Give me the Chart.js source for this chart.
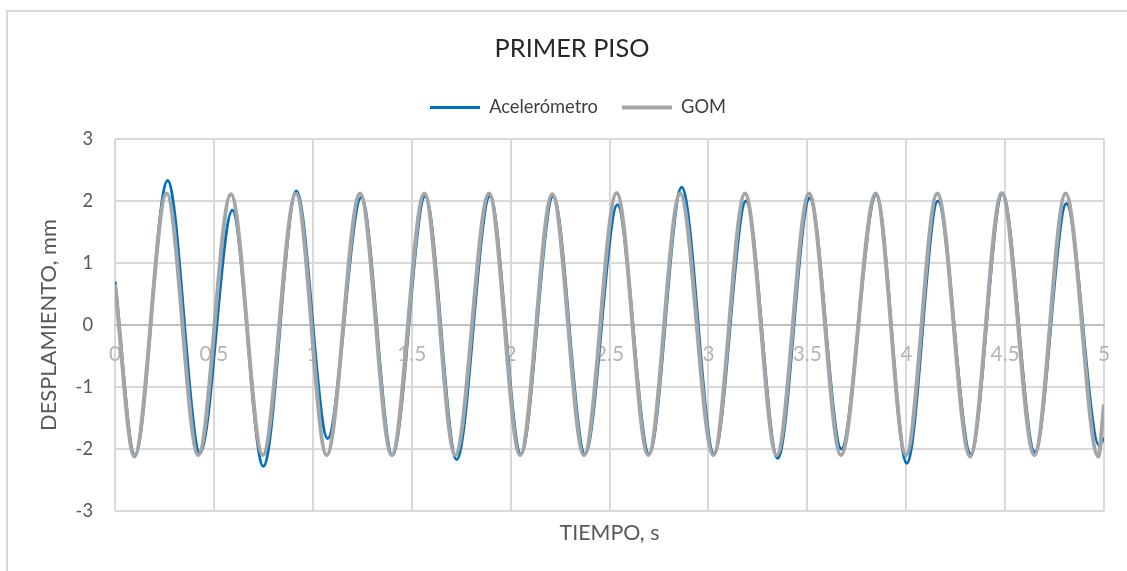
<!DOCTYPE html>
<html>
<head>
<meta charset="utf-8">
<script src="https://cdn.jsdelivr.net/npm/chart.js@4.4.1/dist/chart.umd.min.js"></script>
<style>
  html, body { margin: 0; padding: 0; background: #ffffff; overflow: hidden; }
  #frame { position: absolute; left: 6px; top: 10px; width: 1200px; height: 620px;
           border-left: 2px solid #d9d9d9; border-top: 2px solid #d9d9d9; }
  #chart { position: absolute; left: 0; top: 0; }
</style>
</head>
<body>
<div id="frame"></div>
<canvas id="chart" width="1127" height="571"></canvas>
<script>
// Peaks and troughs of each displacement record (time in s, displacement in mm)
const timeAcc = [0.000, 0.100, 0.266, 0.430, 0.593, 0.750, 0.917, 1.075, 1.245, 1.402,
                 1.568, 1.727, 1.895, 2.052, 2.215, 2.376, 2.540, 2.700, 2.865, 3.028,
                 3.190, 3.350, 3.512, 3.672, 3.848, 4.003, 4.160, 4.326, 4.486, 4.650,
                 4.810, 4.975, 5.000];
const dispAcc = [0.70, -2.10, 2.33, -2.07, 1.85, -2.28, 2.16, -1.83, 2.06, -2.10,
                 2.08, -2.17, 2.08, -2.08, 2.08, -2.08, 1.94, -2.08, 2.22, -2.08,
                 2.00, -2.15, 2.05, -2.00, 2.10, -2.23, 2.00, -2.08, 2.12, -2.05,
                 1.96, -1.94, -1.82];

const timeGom = [0.000, 0.098, 0.261, 0.421, 0.586, 0.747, 0.915, 1.070, 1.239, 1.399,
                 1.564, 1.720, 1.891, 2.048, 2.211, 2.371, 2.536, 2.696, 2.857, 3.025,
                 3.185, 3.345, 3.509, 3.670, 3.846, 3.999, 4.157, 4.323, 4.483, 4.648,
                 4.806, 4.971, 5.000];
const dispGom = [0.65, -2.12, 2.12, -2.10, 2.11, -2.10, 2.12, -2.10, 2.12, -2.10,
                 2.12, -2.10, 2.12, -2.10, 2.11, -2.10, 2.13, -2.10, 2.12, -2.10,
                 2.12, -2.10, 2.12, -2.10, 2.12, -2.10, 2.12, -2.12, 2.13, -2.10,
                 2.12, -2.12, -1.28];

const seriesNames = ['Acelerómetro', 'GOM'];
const timeRange = [0, 5];      // s
const timeStep = 0.5;
const dispRange = [-3, 3];     // mm
const dispStep = 1;

const chartTitle = 'PRIMER PISO';
const xTitle = 'TIEMPO, s';
const yTitle = 'DESPLAMIENTO, mm';

const toPoints = (ts, vs) => ts.map((t, i) => ({ x: t, y: vs[i] }));

// Pick font sizes so that the text runs keep their intended widths
const FAMILY = "Lato, 'Liberation Sans', sans-serif";
const mctx = document.createElement('canvas').getContext('2d');
function sizeForWidth(text, width) {
  mctx.font = '100px ' + FAMILY;
  return Math.round(1000 * width / mctx.measureText(text).width) / 10;
}
const titleSize  = sizeForWidth(chartTitle, 155);
const legendSize = sizeForWidth(seriesNames[0], 109);
const xTitleSize = sizeForWidth(xTitle, 100);
const yTitleSize = sizeForWidth(yTitle, 212);
const yTickSize = legendSize;
const xTickSize = legendSize * 22 / 19.4;

// vertical placement of title, legend and bottom axis title
const titleTop = 38.5 - 0.6 * titleSize;
const legendPad = 24;
const titleBottom = Math.max(0, 35 - 0.6 * titleSize - legendSize / 2);
const legendExtra = 21.5 - legendSize / 2;
const xTitleBottom = 25;
const xTitleTop = Math.max(0, 52 - 1.2 * xTitleSize - xTitleBottom);

Chart.defaults.font.family = FAMILY;

// extra room under the legend, and horizontal nudges for the header blocks
const headerTweaks = {
  id: 'headerTweaks',
  beforeInit(chart) {
    const fit = chart.legend.fit;
    chart.legend.fit = function () { fit.call(this); this.height += legendExtra; };
  },
  afterLayout(chart) {
    chart.legend.left += 8;  chart.legend.right += 8;
    chart.titleBlock.left += 2; chart.titleBlock.right += 2;
  }
};

new Chart(document.getElementById('chart'), {
  type: 'line',
  data: {
    datasets: [
      {
        label: seriesNames[0],
        data: toPoints(timeAcc, dispAcc),
        borderColor: '#0070c0',
        backgroundColor: '#0070c0',
        borderWidth: 3,
        pointRadius: 0,
        cubicInterpolationMode: 'monotone',
        order: 1
      },
      {
        label: seriesNames[1],
        data: toPoints(timeGom, dispGom),
        borderColor: '#a5a5a5',
        backgroundColor: '#a5a5a5',
        borderWidth: 4,
        pointRadius: 0,
        cubicInterpolationMode: 'monotone',
        order: 0
      }
    ]
  },
  plugins: [headerTweaks],
  options: {
    responsive: false,
    animation: false,
    layout: { padding: { left: 36, right: 23, top: 10, bottom: 0 } },
    plugins: {
      title: {
        display: true,
        text: chartTitle,
        color: '#262626',
        font: { size: titleSize, weight: 'normal' },
        padding: { top: titleTop, bottom: titleBottom }
      },
      legend: {
        position: 'top',
        labels: {
          usePointStyle: true,
          pointStyle: 'line',
          pointStyleWidth: 50,
          color: '#404040',
          font: { size: legendSize },
          padding: legendPad,
          sort: (a, b) => a.datasetIndex - b.datasetIndex
        }
      },
      tooltip: { enabled: false }
    },
    scales: {
      x: {
        type: 'linear',
        min: timeRange[0],
        max: timeRange[1],
        position: { y: 0 },
        ticks: {
          stepSize: timeStep,
          color: '#b4b4b4',
          font: { size: xTickSize, lineHeight: 0.05 },
          padding: 29,
          maxRotation: 0,
          autoSkip: false,
          callback: v => String(v)
        },
        grid: { color: '#d9d9d9', lineWidth: 2, drawTicks: false },
        border: { color: '#bfbfbf', width: 2 },
        afterFit(scale) { scale.paddingLeft = 0; scale.paddingRight = 0; }
      },
      xt: {
        type: 'linear',
        axis: 'x',
        min: timeRange[0],
        max: timeRange[1],
        position: 'bottom',
        ticks: { display: false },
        grid: { display: false },
        border: { display: false },
        title: {
          display: true,
          text: xTitle,
          color: '#595959',
          font: { size: xTitleSize },
          padding: { top: xTitleTop, bottom: xTitleBottom }
        }
      },
      y: {
        type: 'linear',
        min: dispRange[0],
        max: dispRange[1],
        ticks: { stepSize: dispStep, color: '#595959', font: { size: yTickSize }, padding: 22 },
        grid: { color: '#d9d9d9', lineWidth: 2, drawTicks: false },
        border: { display: false },
        title: {
          display: true,
          text: yTitle,
          color: '#595959',
          font: { size: yTitleSize },
          padding: { top: 0, bottom: 0 }
        },
        afterFit(scale) { scale.width = 79; }
      }
    }
  }
});
</script>
</body>
</html>
